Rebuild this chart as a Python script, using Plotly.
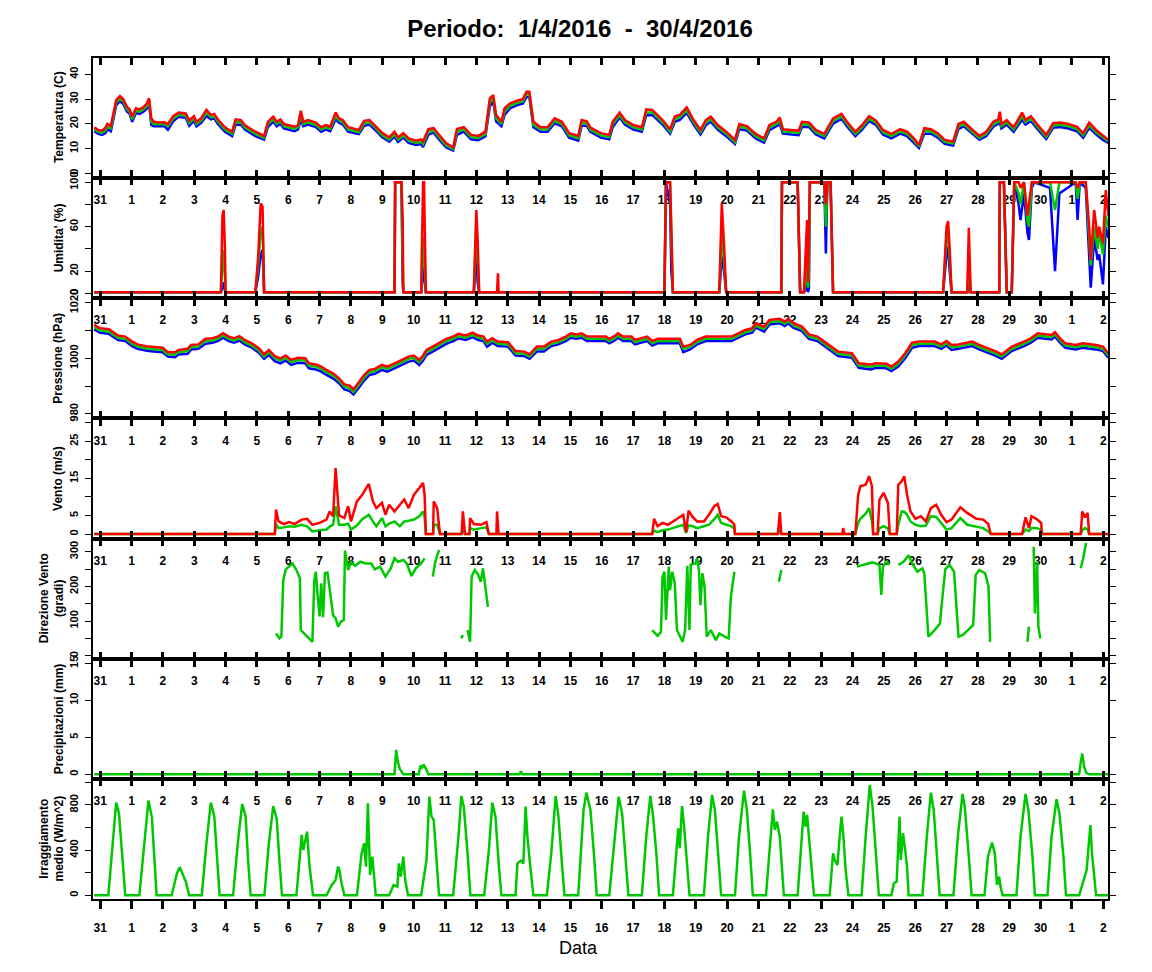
import plotly.graph_objects as go

# time axis: days counted from 31/3 00:00 (tick "31" = 0, tick "2" of May = 32)
day_ticks = list(range(33))
day_labels = ["31"] + [str(d) for d in range(1, 31)] + ["1", "2"]

# ---------------- Temperatura (max / media / min) ----------------
temp_t = [-0.19, -0.06, 0.06, 0.17, 0.23, 0.34, 0.51, 0.63, 0.74, 0.85,
          0.94, 1.02, 1.14, 1.25, 1.37, 1.48, 1.56, 1.63, 1.71, 1.88,
          2.05, 2.16, 2.33, 2.50, 2.73, 2.84, 2.99, 3.07, 3.22, 3.39,
          3.53, 3.64, 3.75, 3.98, 4.21, 4.32, 4.49, 4.61, 4.95, 5.23,
          5.35, 5.52, 5.63, 5.75, 5.86, 6.20, 6.31, 6.40, 6.48, 6.63,
          6.88, 7.05, 7.20, 7.34, 7.51, 7.62, 7.74, 7.91, 8.25, 8.42,
          8.59, 8.76, 8.99, 9.22, 9.39, 9.50, 9.67, 9.84, 10.07, 10.24,
          10.30, 10.47, 10.64, 10.81, 11.04, 11.26, 11.38, 11.60, 11.83, 12.06,
          12.29, 12.43, 12.54, 12.63, 12.80, 12.90, 13.08, 13.31, 13.48, 13.60,
          13.69, 13.82, 14.05, 14.27, 14.50, 14.73, 14.96, 15.25, 15.36, 15.52,
          15.64, 15.97, 16.24, 16.35, 16.57, 16.74, 17.01, 17.28, 17.42, 17.61,
          17.94, 18.18, 18.33, 18.49, 18.71, 18.93, 19.15, 19.32, 19.48, 19.70,
          19.97, 20.25, 20.39, 20.63, 20.91, 21.18, 21.35, 21.57, 21.68, 21.78,
          22.11, 22.28, 22.39, 22.61, 22.83, 23.10, 23.38, 23.65, 23.82, 24.09,
          24.31, 24.53, 24.75, 24.97, 25.24, 25.52, 25.74, 25.96, 26.12, 26.29,
          26.50, 26.72, 26.94, 27.21, 27.38, 27.55, 27.77, 28.05, 28.27, 28.49,
          28.65, 28.70, 28.75, 28.92, 29.14, 29.41, 29.52, 29.69, 29.91, 30.18,
          30.40, 30.62, 30.89, 31.16, 31.36, 31.55, 31.77, 31.99, 32.16]
temp_max = [18.6, 17.5, 17.2, 18.4, 20.0, 19.1, 29.6, 31.2, 29.9, 26.9,
            25.8, 22.9, 26.3, 25.8, 26.6, 28.0, 30.3, 22.2, 20.8, 20.5,
            20.6, 19.9, 23.1, 24.5, 24.2, 21.3, 23.1, 20.8, 22.2, 25.6,
            23.6, 24.0, 21.8, 18.6, 16.8, 21.8, 21.5, 19.5, 16.8, 15.1,
            20.8, 22.9, 20.8, 21.8, 19.9, 18.8, 19.5, 25.3, 20.8, 21.5,
            20.5, 18.6, 19.5, 18.8, 24.6, 22.2, 21.5, 18.6, 17.5, 21.2,
            21.5, 19.5, 16.4, 14.5, 16.8, 14.5, 16.2, 14.1, 13.2, 13.7,
            12.8, 17.8, 18.2, 15.5, 12.1, 10.5, 17.9, 18.6, 15.5, 15.1,
            16.8, 30.3, 31.6, 23.6, 20.8, 26.3, 28.3, 29.4, 29.9, 33.0,
            33.0, 20.8, 18.6, 18.6, 22.2, 20.8, 16.2, 15.1, 21.5, 21.0,
            18.5, 16.2, 15.5, 20.8, 24.5, 21.5, 19.5, 18.6, 25.8, 25.6,
            21.5, 17.8, 22.9, 23.6, 26.6, 21.5, 17.5, 21.5, 22.9, 19.5,
            16.8, 13.5, 19.9, 19.1, 15.9, 14.1, 19.5, 20.8, 22.5, 17.8,
            17.5, 17.2, 20.8, 20.5, 17.5, 15.9, 22.2, 24.0, 20.8, 16.8,
            19.5, 23.1, 21.3, 17.5, 15.9, 17.8, 16.8, 14.1, 11.4, 18.2,
            17.8, 16.2, 13.5, 12.8, 19.9, 20.8, 18.2, 15.1, 16.8, 20.8,
            21.8, 24.9, 19.9, 21.5, 18.6, 24.5, 21.5, 23.1, 19.5, 15.5,
            20.2, 20.5, 19.9, 18.8, 16.2, 20.5, 17.5, 15.1, 13.5]
temp_med = [17.8, 16.7, 16.3, 17.4, 19.0, 18.2, 28.6, 30.2, 29.0, 26.0,
            24.9, 21.8, 25.3, 24.9, 25.7, 27.0, 29.3, 20.9, 19.9, 19.7,
            19.8, 19.0, 22.1, 23.6, 23.3, 20.3, 22.2, 19.9, 21.3, 24.4,
            22.7, 23.1, 20.9, 17.7, 15.9, 20.8, 20.6, 18.6, 15.9, 14.3,
            19.8, 21.9, 19.9, 20.9, 19.0, 17.9, 18.6, 23.5, 19.9, 20.6,
            19.6, 17.7, 18.6, 17.9, 23.2, 21.3, 20.6, 17.7, 16.6, 20.2,
            20.6, 18.6, 15.5, 13.6, 15.8, 13.6, 15.3, 13.2, 12.3, 12.7,
            11.8, 16.8, 17.3, 14.6, 11.2, 9.8, 16.7, 17.7, 14.6, 14.2,
            15.9, 28.8, 30.4, 22.3, 19.9, 25.0, 27.3, 28.5, 29.0, 32.0,
            32.0, 19.6, 17.7, 17.7, 21.2, 19.9, 15.3, 14.2, 20.4, 20.1,
            17.6, 15.3, 14.6, 19.8, 23.5, 20.6, 18.6, 17.7, 24.6, 24.6,
            20.6, 16.9, 21.9, 22.6, 25.5, 20.6, 16.6, 20.5, 21.9, 18.6,
            15.9, 12.6, 18.9, 18.2, 15.0, 13.2, 18.5, 19.9, 21.0, 16.9,
            16.6, 16.3, 19.8, 19.6, 16.6, 15.0, 21.2, 23.0, 19.9, 15.9,
            18.6, 22.1, 20.4, 16.6, 15.0, 16.9, 15.9, 13.2, 10.8, 17.2,
            16.9, 15.3, 12.7, 12.0, 18.9, 19.9, 17.3, 14.3, 15.9, 19.8,
            20.9, 22.5, 19.0, 20.6, 17.7, 23.0, 20.6, 22.1, 18.6, 14.7,
            19.3, 19.6, 19.0, 17.9, 15.3, 19.5, 16.6, 14.3, 12.9]
temp_min = [17.0, 15.9, 15.5, 16.2, 17.8, 17.0, 27.4, 29.2, 28.0, 25.0,
            24.0, 20.8, 24.4, 24.0, 24.8, 26.0, 28.2, 19.5, 19.0, 18.9,
            19.0, 17.6, 21.0, 22.8, 22.4, 19.2, 21.2, 19.0, 20.4, 23.2,
            21.8, 22.2, 20.0, 16.8, 15.0, 19.6, 19.7, 17.8, 15.0, 13.6,
            18.6, 20.9, 19.0, 20.0, 18.1, 17.0, 17.7, 21.5, 19.0, 19.7,
            18.7, 16.8, 17.7, 17.0, 21.8, 20.4, 19.7, 16.8, 15.8, 19.2,
            19.7, 17.7, 14.6, 12.8, 14.8, 12.7, 14.4, 12.3, 11.4, 11.8,
            10.6, 15.6, 16.4, 13.7, 10.4, 9.2, 15.5, 16.8, 13.7, 13.4,
            15.0, 27.0, 29.0, 21.0, 19.0, 23.6, 26.3, 27.6, 28.1, 30.8,
            30.8, 18.6, 16.8, 16.8, 20.2, 19.0, 14.4, 13.2, 19.2, 19.2,
            16.7, 14.4, 13.7, 18.6, 22.5, 19.7, 17.7, 16.8, 23.5, 23.6,
            19.7, 16.0, 20.8, 21.6, 24.4, 19.7, 15.7, 19.4, 20.9, 17.7,
            15.0, 11.8, 17.8, 17.3, 14.1, 12.4, 17.4, 19.0, 19.8, 16.0,
            15.7, 15.4, 18.8, 18.7, 15.7, 14.1, 20.1, 22.0, 19.0, 15.0,
            17.7, 21.1, 19.5, 15.7, 14.1, 16.0, 15.0, 12.4, 10.2, 16.0,
            16.0, 14.4, 11.9, 11.2, 17.8, 19.0, 16.4, 13.5, 15.0, 18.8,
            20.0, 20.5, 18.1, 19.7, 16.8, 21.6, 19.7, 21.1, 17.7, 13.9,
            18.4, 18.7, 18.1, 17.0, 14.4, 18.4, 15.7, 13.5, 12.3]

# ---------------- Umidita' ----------------
hum_t = [-0.19, 3.85, 3.90, 3.94, 3.98, 4.00, 4.95, 5.04, 5.12, 5.18,
         5.23, 9.39, 9.41, 9.61, 9.65, 9.67, 10.24, 10.30, 10.33, 10.39,
         11.92, 12.00, 12.04, 12.09, 12.66, 12.69, 12.71, 18.00, 18.05, 18.18,
         18.22, 18.27, 19.75, 19.83, 19.90, 19.97, 21.73, 21.75, 22.25, 22.33,
         22.45, 22.50, 22.55, 22.58, 22.61, 22.64, 23.10, 23.15, 23.20, 23.30,
         23.38, 26.89, 27.00, 27.05, 27.10, 27.16, 27.66, 27.71, 27.77, 28.68,
         28.70, 28.83, 28.92, 29.08, 29.16, 29.30, 29.36, 29.47, 29.58, 29.63,
         29.72, 29.80, 30.30, 30.46, 30.60, 31.12, 31.18, 31.25, 31.44, 31.55,
         31.60, 31.71, 31.82, 31.87, 31.99, 32.08, 32.16]
hum_max = [1, 1, 70, 75, 40, 1, 1, 33, 81, 78,
           1, 1, 100, 100, 66, 1, 1, 100, 100, 1,
           1, 75, 50, 1, 1, 18, 1, 1, 100, 100,
           60, 1, 1, 81, 45, 1, 1, 100, 100, 1,
           1, 40, 66, 10, 50, 100, 100, 80, 100, 100,
           1, 1, 60, 65, 40, 1, 1, 59, 1, 1,
           100, 100, 1, 1, 100, 100, 95, 100, 70, 80,
           100, 100, 100, 100, 100, 100, 95, 100, 100, 60,
           30, 75, 50, 60, 45, 93, 70]
hum_med = [1, 1, 25, 39, 15, 1, 1, 25, 55, 60,
           1, 1, 100, 100, 30, 1, 1, 51, 40, 1,
           1, 66, 30, 1, 1, 3, 1, 1, 100, 100,
           50, 1, 1, 54, 30, 1, 1, 100, 100, 1,
           1, 10, 30, 5, 20, 100, 100, 60, 100, 100,
           1, 1, 50, 57, 30, 1, 1, 25, 1, 1,
           100, 100, 1, 1, 100, 90, 80, 100, 65, 60,
           100, 100, 100, 75, 100, 100, 85, 100, 100, 50,
           25, 60, 40, 55, 35, 70, 60]
hum_min = [1, 1, 5, 10, 3, 1, 1, 15, 35, 39,
           1, 1, 100, 100, 10, 1, 1, 24, 15, 1,
           1, 39, 10, 1, 1, 1, 1, 1, 100, 80,
           20, 1, 1, 33, 20, 1, 1, 100, 100, 1,
           1, 3, 10, 1, 5, 100, 100, 36, 100, 100,
           1, 1, 35, 42, 20, 1, 1, 10, 1, 1,
           100, 100, 1, 1, 100, 80, 66, 90, 55, 48,
           95, 100, 95, 20, 90, 100, 66, 100, 95, 40,
           5, 50, 30, 35, 8, 60, 50]

# ---------------- Pressione ----------------
pres_t = [-0.19, 0.00, 0.28, 0.40, 0.57, 0.80, 1.02, 1.19, 1.54, 1.99,
          2.16, 2.39, 2.50, 2.79, 2.90, 3.13, 3.36, 3.58, 3.75, 3.92,
          4.10, 4.27, 4.44, 4.61, 4.84, 5.06, 5.23, 5.38, 5.57, 5.75,
          5.92, 6.09, 6.31, 6.54, 6.66, 6.88, 7.05, 7.22, 7.45, 7.62,
          7.79, 7.96, 8.08, 8.25, 8.42, 8.59, 8.76, 8.99, 9.16, 9.39,
          9.61, 9.84, 10.01, 10.18, 10.30, 10.41, 10.58, 10.81, 11.04, 11.26,
          11.43, 11.66, 11.88, 12.06, 12.23, 12.34, 12.51, 12.68, 13.01, 13.25,
          13.53, 13.70, 13.93, 14.16, 14.39, 14.62, 14.85, 15.02, 15.19, 15.36,
          15.53, 16.13, 16.24, 16.41, 16.52, 16.68, 16.95, 17.06, 17.34, 17.45,
          17.61, 17.78, 18.49, 18.60, 18.82, 19.04, 19.32, 20.14, 20.36, 20.58,
          20.80, 20.91, 21.07, 21.18, 21.35, 21.68, 21.84, 21.95, 22.11, 22.39,
          22.61, 22.88, 23.10, 23.32, 23.54, 23.98, 24.20, 24.58, 24.75, 25.08,
          25.24, 25.46, 25.68, 25.90, 26.12, 26.62, 26.83, 27.00, 27.16, 27.38,
          27.82, 28.04, 28.32, 28.59, 28.76, 29.08, 29.47, 29.69, 29.91, 30.35,
          30.46, 30.62, 30.79, 31.12, 31.34, 31.77, 31.99, 32.16]
pres_max = [1012.0, 1010.8, 1010.5, 1009.6, 1008.2, 1007.8, 1006.0, 1005.0, 1004.2, 1003.8,
            1002.2, 1002.2, 1003.0, 1003.4, 1004.8, 1005.0, 1007.0, 1007.2, 1007.8, 1009.0,
            1007.8, 1007.2, 1008.0, 1006.6, 1005.4, 1003.6, 1001.4, 1003.0, 1000.8, 1000.0,
            1001.0, 999.4, 1000.2, 1000.0, 998.2, 997.8, 997.0, 995.8, 994.4, 992.8,
            990.6, 990.2, 988.8, 991.4, 994.0, 995.8, 996.2, 997.6, 997.0, 998.2,
            999.4, 1000.6, 1001.0, 999.4, 1001.0, 1003.0, 1004.0, 1005.4, 1007.0, 1007.8,
            1008.8, 1008.2, 1009.2, 1008.2, 1007.8, 1006.0, 1007.2, 1006.0, 1005.8, 1002.6,
            1002.4, 1001.4, 1004.2, 1004.2, 1006.0, 1006.6, 1007.8, 1009.0, 1008.6, 1009.0,
            1007.8, 1007.8, 1007.0, 1008.0, 1009.0, 1007.8, 1007.8, 1006.6, 1007.4, 1007.8,
            1006.2, 1007.0, 1007.0, 1004.2, 1004.8, 1006.6, 1007.8, 1007.8, 1009.0, 1010.2,
            1010.8, 1012.6, 1011.8, 1011.4, 1013.8, 1014.2, 1013.2, 1014.2, 1012.6, 1011.4,
            1008.6, 1007.8, 1006.0, 1004.2, 1002.4, 1001.8, 998.2, 997.8, 998.2, 998.0,
            997.0, 998.8, 1001.8, 1005.6, 1006.0, 1006.0, 1005.0, 1006.2, 1004.8, 1005.0,
            1006.0, 1004.8, 1003.6, 1002.4, 1001.4, 1004.2, 1006.0, 1007.2, 1009.0, 1008.4,
            1009.4, 1007.2, 1005.4, 1004.8, 1005.4, 1004.8, 1004.2, 1001.8]
pres_med = [1011.2, 1010.0, 1009.6, 1008.8, 1007.4, 1007.0, 1005.2, 1004.2, 1003.4, 1003.0,
            1001.4, 1001.4, 1002.2, 1002.6, 1004.0, 1004.2, 1006.2, 1006.4, 1007.0, 1008.2,
            1007.0, 1006.4, 1007.2, 1005.8, 1004.6, 1002.8, 1000.6, 1002.2, 1000.0, 999.2,
            1000.2, 998.6, 999.4, 999.2, 997.4, 997.0, 996.2, 995.0, 993.6, 992.0,
            989.8, 989.2, 987.8, 990.4, 993.0, 995.0, 995.4, 996.8, 996.2, 997.4,
            998.6, 999.8, 1000.2, 998.6, 1000.2, 1002.2, 1003.2, 1004.6, 1006.2, 1007.0,
            1008.0, 1007.4, 1008.4, 1007.4, 1007.0, 1005.2, 1006.4, 1005.2, 1005.0, 1001.8,
            1001.6, 1000.6, 1003.4, 1003.4, 1005.2, 1005.8, 1007.0, 1008.2, 1007.8, 1008.2,
            1007.0, 1007.0, 1006.2, 1007.2, 1008.2, 1007.0, 1007.0, 1005.8, 1006.6, 1007.0,
            1005.4, 1006.2, 1006.2, 1003.4, 1004.0, 1005.8, 1007.0, 1007.0, 1008.2, 1009.4,
            1010.0, 1011.8, 1011.0, 1010.6, 1013.0, 1013.4, 1012.4, 1013.4, 1011.8, 1010.6,
            1007.8, 1007.0, 1005.2, 1003.4, 1001.6, 1001.0, 997.4, 997.0, 997.4, 997.2,
            996.2, 998.0, 1001.0, 1004.8, 1005.2, 1005.2, 1004.2, 1005.4, 1004.0, 1004.2,
            1005.2, 1004.0, 1002.8, 1001.6, 1000.6, 1003.4, 1005.2, 1006.4, 1008.2, 1007.6,
            1008.6, 1006.4, 1004.6, 1004.0, 1004.6, 1004.0, 1003.4, 1001.0]
pres_min = [1010.4, 1009.2, 1008.8, 1008.0, 1006.6, 1006.2, 1004.4, 1003.4, 1002.6, 1002.2,
            1000.6, 1000.4, 1001.4, 1001.6, 1003.2, 1003.4, 1005.2, 1005.6, 1006.2, 1007.4,
            1006.2, 1005.6, 1006.4, 1005.0, 1003.8, 1002.0, 999.8, 1001.2, 999.0, 998.2,
            999.2, 997.6, 998.4, 998.2, 996.4, 996.0, 995.2, 994.0, 992.6, 991.0,
            988.8, 988.2, 987.0, 989.4, 992.0, 994.0, 994.4, 995.8, 995.2, 996.4,
            997.6, 998.8, 999.2, 997.6, 999.2, 1001.2, 1002.2, 1003.6, 1005.2, 1006.2,
            1007.2, 1006.6, 1007.6, 1006.6, 1006.2, 1004.2, 1005.6, 1004.4, 1004.2, 1001.0,
            1000.8, 999.8, 1002.4, 1002.4, 1004.4, 1005.0, 1006.2, 1007.4, 1007.0, 1007.4,
            1006.2, 1006.2, 1005.4, 1006.4, 1007.4, 1006.2, 1006.2, 1005.0, 1005.8, 1006.2,
            1004.6, 1005.4, 1005.4, 1002.2, 1003.2, 1005.0, 1006.2, 1006.2, 1007.4, 1008.6,
            1009.2, 1011.0, 1010.2, 1009.6, 1012.2, 1012.6, 1011.6, 1012.6, 1011.0, 1009.8,
            1007.0, 1006.2, 1004.4, 1002.6, 1000.8, 1000.2, 996.6, 996.0, 996.6, 996.4,
            995.4, 997.0, 1000.0, 1003.8, 1004.4, 1004.4, 1003.4, 1004.6, 1003.0, 1003.4,
            1004.4, 1003.2, 1002.0, 1000.8, 999.8, 1002.6, 1004.4, 1005.6, 1007.4, 1006.8,
            1007.8, 1005.6, 1003.8, 1003.2, 1003.8, 1003.2, 1002.6, 1000.2]

# ---------------- Vento (raffica / medio) ----------------
wind_t = [-0.19, 5.57, 5.61, 5.69, 5.86, 6.03, 6.20, 6.43, 6.60, 6.77,
          7.00, 7.22, 7.32, 7.43, 7.51, 7.57, 7.62, 7.79, 7.91, 8.00,
          8.19, 8.36, 8.57, 8.70, 8.81, 8.99, 9.10, 9.22, 9.39, 9.56,
          9.70, 9.84, 10.01, 10.18, 10.30, 10.35, 10.39, 10.62, 10.64, 10.75,
          10.84, 11.53, 11.57, 11.64, 11.78, 11.80, 11.92, 12.15, 12.32, 12.40,
          12.64, 12.66, 12.71, 17.61, 17.67, 17.78, 17.94, 18.11, 18.27, 18.44,
          18.60, 18.69, 18.77, 18.88, 19.04, 19.26, 19.42, 19.59, 19.70, 19.81,
          19.97, 20.14, 20.23, 20.25, 21.62, 21.68, 21.73, 23.68, 23.70, 23.74,
          24.09, 24.18, 24.25, 24.42, 24.53, 24.62, 24.66, 24.80, 24.86, 24.99,
          25.13, 25.19, 25.41, 25.46, 25.57, 25.65, 25.74, 25.85, 26.01, 26.18,
          26.34, 26.50, 26.67, 26.83, 27.00, 27.16, 27.44, 27.66, 27.95, 28.17,
          28.33, 28.41, 29.41, 29.52, 29.63, 29.71, 29.86, 30.02, 30.04, 31.28,
          31.33, 31.42, 31.50, 31.55, 32.16]
wind_gust = [0, 0, 6.6, 3.4, 2.7, 3.2, 2.7, 3.9, 4.1, 2.5,
             3.0, 3.9, 6.1, 4.8, 17.8, 10.6, 5.0, 4.3, 7.5, 3.4,
             8.8, 10.6, 13.5, 8.8, 7.0, 8.4, 5.2, 7.9, 6.1, 7.9,
             9.3, 7.0, 10.6, 12.4, 13.8, 10.6, 0, 0, 8.8, 7.0,
             0, 0, 6.1, 0, 0, 4.3, 2.7, 2.5, 3.2, 0,
             0, 6.1, 0, 0, 4.1, 2.1, 3.0, 2.5, 3.4, 4.3,
             5.2, 0.5, 6.3, 4.8, 3.4, 3.4, 5.2, 7.5, 8.1, 4.8,
             4.5, 3.4, 2.5, 0, 0, 5.9, 0, 0, 1.6, 0,
             0, 10.6, 12.9, 13.3, 15.6, 12.9, 0, 0, 9.3, 11.1,
             8.4, 0, 0, 13.3, 14.2, 15.6, 10.6, 6.1, 4.1, 4.8,
             3.4, 7.0, 7.9, 5.2, 3.2, 3.9, 7.2, 5.7, 4.1, 3.9,
             2.7, 0, 0, 4.5, 1.6, 4.8, 4.1, 3.0, 0, 0,
             6.1, 4.5, 5.7, 0, 0]
wind_mean = [0, 0, 2.7, 1.6, 1.8, 2.1, 2.0, 2.5, 2.1, 0.7,
             1.0, 1.2, 2.0, 2.5, 7.5, 4.0, 2.5, 2.5, 2.8, 1.2,
             2.3, 4.0, 5.2, 3.4, 2.1, 4.3, 2.1, 2.8, 3.4, 2.1,
             3.4, 3.6, 3.9, 4.8, 6.1, 4.5, 0, 0, 2.5, 2.5,
             0, 0, 1.6, 0, 0, 1.6, 1.2, 1.6, 1.8, 0,
             0, 0.5, 0, 0, 0.9, 0.5, 1.0, 1.2, 1.6, 2.1,
             2.5, 0.3, 2.3, 2.2, 1.6, 2.1, 2.5, 4.0, 5.2, 3.0,
             2.5, 2.1, 1.5, 0, 0, 1.0, 0, 0, 0.3, 0,
             0, 3.0, 4.1, 5.5, 7.0, 3.4, 0, 0, 1.6, 2.1,
             1.5, 0, 0, 2.5, 6.1, 6.0, 5.2, 3.4, 2.5, 2.1,
             2.3, 4.8, 4.6, 3.0, 1.2, 1.6, 4.3, 2.5, 2.1, 1.6,
             0.7, 0, 0, 1.2, 0.8, 1.6, 1.6, 1.2, 0, 0,
             1.0, 1.6, 1.2, 0, 0]

# ---------------- Direzione Vento (None = vento assente) ----------------
dir_t = [5.61, 5.72, 5.78, 5.84, 5.92, 6.03, 6.14, 6.26, 6.37, 6.40,
         6.54, 6.66, 6.77, 6.83, 6.88, 6.94, 7.00, 7.05, 7.11, 7.17,
         7.25, 7.32, 7.36, 7.43, 7.51, 7.59, 7.68, 7.77, 7.81, 7.91,
         8.00, 8.13, 8.30, 8.47, 8.65, 8.76, 8.93, 9.10, 9.27, 9.39,
         9.50, 9.67, 9.78, 9.93, 10.07, 10.24, 10.35, 10.45, 10.61, 10.69,
         10.81, 11.00, 11.52, 11.57, 11.65, 11.72, 11.80, 11.85, 11.95, 12.06,
         12.14, 12.21, 12.29, 12.37, 12.50, 17.61, 17.78, 17.89, 17.94, 18.00,
         18.05, 18.14, 18.18, 18.25, 18.33, 18.40, 18.49, 18.58, 18.66, 18.73,
         18.80, 18.84, 18.99, 19.04, 19.10, 19.15, 19.21, 19.28, 19.35, 19.48,
         19.64, 19.75, 19.92, 20.05, 20.12, 20.23, 20.40, 21.65, 21.73, 22.00,
         24.14, 24.31, 24.47, 24.64, 24.86, 24.92, 24.97, 25.08, 25.17, 25.30,
         25.46, 25.63, 25.79, 25.90, 26.07, 26.23, 26.29, 26.42, 26.62, 26.79,
         26.87, 26.96, 27.09, 27.24, 27.38, 27.52, 27.68, 27.85, 27.93, 28.04,
         28.23, 28.34, 28.39, 29.00, 29.58, 29.63, 29.70, 29.78, 29.82, 29.89,
         29.93, 29.99, 30.50, 31.28, 31.36, 31.45]
dir_val = [64, 50, 55, 218, 249, 257, 266, 247, 223, 74,
           62, 50, 40, 218, 242, 170, 113, 209, 111, 238,
           240, 194, 165, 117, 108, 84, 98, 103, 303, 247,
           271, 259, 271, 266, 266, 249, 257, 228, 252, 281,
           271, 276, 266, 230, 252, 266, 281, None, 228, 271,
           305, None, 50, 60, None, 74, 40, 228, 247, 233,
           213, 252, 194, 141, None, 74, 57, 69, 228, 242,
           103, 257, 189, 242, 209, 74, 55, 40, 74, 259,
           74, 262, 266, 281, 247, 146, 238, 199, 55, 74,
           45, 64, 55, 50, 170, 242, None, 213, 247, None,
           257, 262, 265, 269, 262, 175, 257, 271, 262, None,
           262, 271, 290, 266, 242, 252, 238, 55, 74, 93,
           170, 249, 262, 242, 55, 60, 74, 89, 233, 247,
           238, 199, 40, None, 40, 84, None, 314, 122, 271,
           84, 50, None, 252, 281, 325]

# ---------------- Precipitazioni ----------------
rain_t = [-0.19, 9.39, 9.44, 9.50, 9.56, 9.67, 10.16, 10.22, 10.27, 10.32, 10.41,
          10.47, 13.38, 13.42, 13.47, 31.23, 31.28, 31.33, 31.39, 31.46, 31.55, 32.16]
rain_val = [0, 0, 3.3, 1.6, 0.7, 0, 0, 1.2, 0.9, 1.3, 0.6,
            0, 0, 0.4, 0, 0, 1.6, 2.8, 1.0, 0.2, 0, 0]

# ---------------- Irraggiamento medio (one row per day) ----------------
irr_t = [-0.19,
         0.26, 0.40, 0.51, 0.60, 0.72, 0.80,
         1.25, 1.40, 1.54, 1.65, 1.74, 1.80,
         2.28, 2.45, 2.54, 2.65, 2.73, 2.84,
         3.24, 3.39, 3.53, 3.64, 3.73, 3.81,
         4.24, 4.39, 4.53, 4.64, 4.72, 4.80,
         5.24, 5.38, 5.52, 5.63, 5.72, 5.80,
         6.26, 6.37, 6.43, 6.48, 6.54, 6.60, 6.68, 6.79,
         7.22, 7.39, 7.51, 7.59, 7.63, 7.70, 7.79,
         8.19, 8.34, 8.42, 8.48, 8.54, 8.61, 8.68, 8.73, 8.79,
         9.22, 9.36, 9.48, 9.53, 9.59, 9.67, 9.73, 9.82,
         10.24, 10.41, 10.50, 10.57, 10.64, 10.75, 10.81,
         11.26, 11.43, 11.52, 11.60, 11.72, 11.81,
         12.25, 12.40, 12.51, 12.61, 12.72, 12.80,
         13.25, 13.31, 13.42, 13.50, 13.57, 13.63, 13.71, 13.82,
         14.25, 14.39, 14.53, 14.62, 14.73, 14.81,
         15.25, 15.42, 15.51, 15.64, 15.75, 15.84,
         16.24, 16.41, 16.54, 16.65, 16.76, 16.85,
         17.28, 17.42, 17.55, 17.64, 17.75, 17.83,
         18.27, 18.38, 18.44, 18.49, 18.56, 18.62, 18.71, 18.80,
         19.26, 19.39, 19.52, 19.61, 19.72, 19.81,
         20.25, 20.38, 20.54, 20.63, 20.74, 20.82,
         21.24, 21.37, 21.46, 21.52, 21.59, 21.68, 21.76, 21.81,
         22.25, 22.39, 22.44, 22.50, 22.55, 22.61, 22.68, 22.77,
         23.27, 23.38, 23.43, 23.52, 23.59, 23.65, 23.71, 23.78, 23.87,
         24.29, 24.42, 24.55, 24.64, 24.75, 24.84,
         25.24, 25.32, 25.41, 25.50, 25.54, 25.61, 25.68, 25.74, 25.79,
         26.23, 26.37, 26.50, 26.59, 26.70, 26.78,
         27.22, 27.36, 27.51, 27.58, 27.71, 27.80,
         28.21, 28.32, 28.45, 28.54, 28.61, 28.68, 28.72, 28.79,
         29.23, 29.36, 29.52, 29.61, 29.74, 29.82,
         30.22, 30.35, 30.51, 30.60, 30.73, 30.81,
         31.23, 31.39, 31.47, 31.53, 31.59, 31.64, 31.72, 31.77,
         32.16]
irr_val = [0,
           0, 460, 820, 725, 313, 0,
           0, 460, 838, 690, 300, 0,
           0, 195, 248, 165, 121, 0,
           0, 460, 820, 700, 300, 0,
           0, 460, 808, 700, 300, 0,
           0, 460, 790, 680, 300, 0,
           0, 371, 534, 401, 490, 563, 254, 0,
           0, 91, 135, 254, 224, 106, 0,
           0, 371, 460, 254, 814, 180, 342, 195, 0,
           0, 91, 77, 283, 165, 342, 135, 0,
           0, 313, 873, 696, 667, 254, 0,
           0, 519, 879, 785, 371, 0,
           0, 401, 820, 696, 254, 0,
           0, 283, 306, 283, 785, 519, 283, 0,
           0, 371, 879, 696, 283, 0,
           0, 755, 909, 755, 371, 0,
           0, 519, 873, 725, 342, 0,
           0, 519, 879, 696, 342, 0,
           0, 371, 592, 416, 790, 637, 342, 0,
           0, 519, 888, 755, 342, 0,
           0, 519, 926, 755, 342, 0,
           0, 431, 761, 578, 652, 519, 224, 0,
           0, 490, 740, 608, 711, 519, 313, 0,
           0, 371, 313, 268, 519, 696, 519, 224, 0,
           0, 519, 976, 785, 371, 0,
           0, 106, 121, 696, 313, 549, 401, 254, 0,
           0, 519, 909, 755, 342, 0,
           0, 519, 897, 785, 342, 0,
           0, 342, 466, 371, 91, 165, 77, 0,
           0, 519, 897, 755, 342, 0,
           0, 519, 850, 725, 342, 0,
           0, 165, 224, 431, 622, 371, 91, 0,
           0]

RED, GREEN, BLUE = "#ff0000", "#00c800", "#0000ff"

panels = [
    # title, y range, tick values, tick labels, series
    ("Temperatura (C)", [-1.8, 46.8], [0, 10, 20, 30, 40], ["0", "10", "20", "30", "40"],
     [(temp_t, temp_min, BLUE), (temp_t, temp_med, GREEN), (temp_t, temp_max, RED)]),
    ("Umidita' (%)", [-4.2, 104.1], [0, 20, 40, 60, 80, 100], ["0", "20", "", "60", "", "100"],
     [(hum_t, hum_min, BLUE), (hum_t, hum_med, GREEN), (hum_t, hum_max, RED)]),
    ("Pressione (hPa)", [978.4, 1021.7], [980, 990, 1000, 1010, 1020], ["980", "", "1000", "", "1020"],
     [(pres_t, pres_min, BLUE), (pres_t, pres_med, GREEN), (pres_t, pres_max, RED)]),
    ("Vento (m/s)", [-1.2, 31.2], [0, 5, 10, 15, 20, 25, 30], ["0", "5", "", "15", "", "25", ""],
     [(wind_t, wind_mean, GREEN), (wind_t, wind_gust, RED)]),
    ("Direzione Vento<br>(gradi)", [-9.5, 338], [0, 50, 100, 150, 200, 250, 300],
     ["0", "", "100", "", "200", "", "300"],
     [(dir_t, dir_val, GREEN)]),
    ("Precipitazioni (mm)", [-0.6, 15.6], [0, 5, 10, 15], ["0", "5", "10", "15"],
     [(rain_t, rain_val, GREEN)]),
    ("Irraggiamento<br>medio (W/m^2)", [-35.4, 1032], [0, 200, 400, 600, 800, 1000],
     ["0", "", "400", "", "800", ""],
     [(irr_t, irr_val, GREEN)]),
]

W, H = 1152, 972
OFF = 8  # the page puts the figure 8px in from the top-left corner
FONT = "Liberation Sans, Arial, sans-serif"
X_LEFT, X_RIGHT = 92.5 - OFF, 1108.3 - OFF
edges = [e - OFF for e in [57.5, 177.7, 298.0, 418.3, 538.5, 659.0, 778.7, 899.3]]
x_dom = [X_LEFT / W, X_RIGHT / W]
x_range = [-0.245, 32.16]

fig = go.Figure()
layout = {}
annotations = []

for i, (title, yr, tv, tt, series) in enumerate(panels):
    n = i + 1
    xs = "x" if n == 1 else f"x{n}"
    ys = "y" if n == 1 else f"y{n}"
    for xv, yv, col in series:
        fig.add_trace(go.Scatter(x=xv, y=yv, mode="lines", xaxis=xs, yaxis=ys,
                                 line=dict(color=col, width=2.5), connectgaps=False,
                                 showlegend=False, hoverinfo="skip"))
    last = n == len(panels)
    layout["xaxis" if n == 1 else f"xaxis{n}"] = dict(
        domain=x_dom, anchor=ys, range=x_range, tickmode="array",
        tickvals=day_ticks, ticktext=day_labels,
        ticks="outside" if last else "inside", ticklen=7.5, tickwidth=2.5, tickcolor="black",
        showline=True, linewidth=2, linecolor="black", mirror=True if last else "ticks",
        showgrid=False, zeroline=False, fixedrange=True, automargin=False,
        tickfont=dict(family=FONT, size=12, color="black", weight="bold"),
        ticklabelstandoff=9 if last else 10)
    y0 = 1 - edges[i + 1] / H
    y1 = 1 - edges[i] / H
    layout["yaxis" if n == 1 else f"yaxis{n}"] = dict(
        domain=[y0, y1], anchor=xs, range=yr, tickmode="array", tickvals=tv, ticktext=tt,
        ticks="outside", ticklen=6, tickwidth=1.2, tickcolor="black",
        showline=True, linewidth=1.5, linecolor="black", mirror="ticks",
        showgrid=False, zeroline=False, fixedrange=True, tickangle=-90, automargin=False,
        tickfont=dict(family=FONT, size=11, color="black", weight="bold"),
        ticklabelstandoff=2)
    annotations.append(dict(
        text=f"<b>{title}</b>", xref="paper", yref="paper",
        x=((51.5 if "<br>" in title else 58.5) - OFF) / W,
        y=(y0 + y1) / 2, textangle=-90, showarrow=False, xanchor="center", yanchor="middle",
        font=dict(family=FONT, size=12, color="black")))

# inward day ticks on top of the last panel
layout["xaxis8"] = dict(domain=x_dom, anchor="y7", overlaying="x7", side="top", range=x_range,
                        tickmode="array", tickvals=day_ticks, ticks="inside", ticklen=7.5,
                        tickwidth=2.5, tickcolor="black", showticklabels=False,
                        showline=False, showgrid=False, zeroline=False, fixedrange=True,
                        automargin=False)
fig.add_trace(go.Scatter(x=[None], y=[None], xaxis="x8", yaxis="y7", mode="lines",
                         showlegend=False, hoverinfo="skip"))

annotations.append(dict(text="Data", xref="paper", yref="paper", x=(578 - OFF) / W,
                        y=1 - (948 - OFF) / H,
                        showarrow=False, xanchor="center", yanchor="middle",
                        font=dict(family=FONT, size=18, color="black")))

fig.update_layout(
    width=W, height=H, margin=dict(l=0, r=0, t=0, b=0, pad=0, autoexpand=False),
    paper_bgcolor="white", plot_bgcolor="white", showlegend=False,
    title=dict(text="<b>Periodo:\u00a0 1/4/2016\u00a0 -\u00a0 30/4/2016</b>", xref="paper",
               x=(580 - OFF) / W, y=1 - (29 - OFF) / H, xanchor="center", yanchor="middle",
               automargin=False, font=dict(family=FONT, size=24, color="black")),
    annotations=annotations,
    **layout)

fig.write_html("out.html")
